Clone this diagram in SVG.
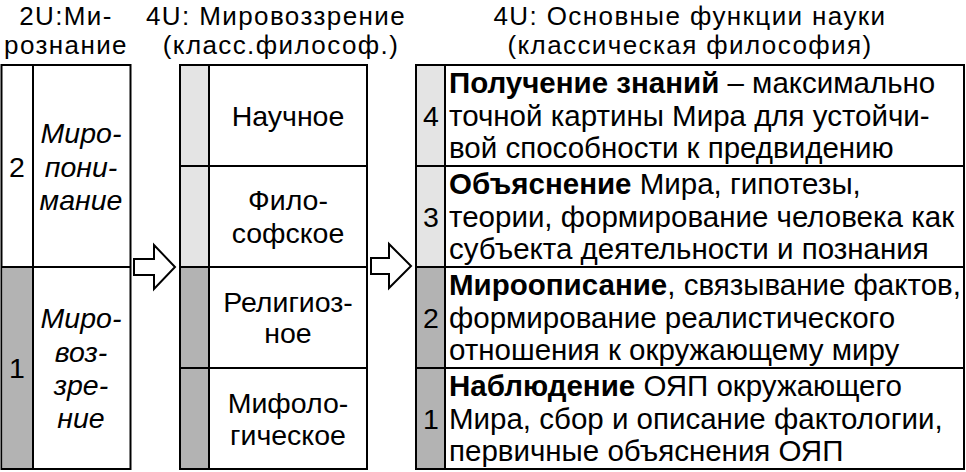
<svg xmlns="http://www.w3.org/2000/svg" width="966" height="472" viewBox="0 0 966 472">
<style>
text{font-family:"Liberation Sans",Arial,sans-serif;font-size:28.5px;fill:#000}
.h{text-anchor:middle;font-size:26px;letter-spacing:1.4px}
.c{text-anchor:middle}
.i{font-style:italic}
.b{font-weight:bold}
.t{font-size:29.5px}
.box{fill:#fff;stroke:#000;stroke-width:2}
.lt{fill:#e4e4e4}
.dk{fill:#b3b3b3}
.ln{stroke:#000;stroke-width:2;fill:none}
.ar{fill:#fff;stroke:#000;stroke-width:2;stroke-linejoin:miter}
</style>
<rect width="966" height="472" fill="#fff"/>
<g id="headings">
<text class="h" x="66" y="25">2U:Ми-</text>
<text class="h" x="66" y="54">рознание</text>
<text class="h" x="276" y="25">4U: Мировоззрение</text>
<text class="h" x="281" y="54">(класс.философ.)</text>
<text class="h" x="690" y="25">4U: Основные функции науки</text>
<text class="h" x="690" y="54">(классическая философия)</text>
</g>
<g id="col1">
<rect class="box" x="1.5" y="65" width="129" height="404"/>
<rect class="dk" x="2.5" y="267" width="30.5" height="201"/>
<line class="ln" x1="33" y1="65" x2="33" y2="469"/>
<line class="ln" x1="1.5" y1="267" x2="130.5" y2="267"/>
<text class="c" x="17" y="177">2</text>
<text class="c i" x="81" y="143">Миро-</text>
<text class="c i" x="81" y="177">пони-</text>
<text class="c i" x="81" y="210">мание</text>
<text class="c" x="17" y="378">1</text>
<text class="c i" x="81" y="328">Миро-</text>
<text class="c i" x="81" y="362">воз-</text>
<text class="c i" x="81" y="395">зре-</text>
<text class="c i" x="81" y="428">ние</text>
</g>
<g id="col2">
<rect class="box" x="180" y="65" width="187" height="404"/>
<rect class="lt" x="181" y="66" width="28" height="201"/>
<rect class="dk" x="181" y="267" width="28" height="201"/>
<line class="ln" x1="209" y1="65" x2="209" y2="469"/>
<line class="ln" x1="180" y1="166" x2="367" y2="166"/>
<line class="ln" x1="180" y1="267" x2="367" y2="267"/>
<line class="ln" x1="180" y1="368" x2="367" y2="368"/>
<text class="c" x="288" y="126">Научное</text>
<text class="c" x="288" y="210">Фило-</text>
<text class="c" x="288" y="243">софское</text>
<text class="c" x="288" y="312">Религиоз-</text>
<text class="c" x="288" y="343">ное</text>
<text class="c" x="288" y="413">Мифоло-</text>
<text class="c" x="288" y="445">гическое</text>
</g>
<g id="col3">
<rect class="box" x="416" y="65" width="548" height="404"/>
<rect class="lt" x="417" y="66" width="28" height="201"/>
<rect class="dk" x="417" y="267" width="28" height="201"/>
<line class="ln" x1="445" y1="65" x2="445" y2="469"/>
<line class="ln" x1="416" y1="166" x2="964" y2="166"/>
<line class="ln" x1="416" y1="267" x2="964" y2="267"/>
<line class="ln" x1="416" y1="368" x2="964" y2="368"/>
<text class="c" x="431" y="126">4</text>
<text class="c" x="431" y="227">3</text>
<text class="c" x="431" y="328">2</text>
<text class="c" x="431" y="429">1</text>
<text class="t" x="449" y="93"><tspan class="b">Получение знаний</tspan> – максимально</text>
<text class="t" x="449" y="126">точной картины Мира для устойчи-</text>
<text class="t" x="449" y="158">вой способности к предвидению</text>
<text class="t" x="449" y="194"><tspan class="b">Объяснение</tspan> Мира, гипотезы,</text>
<text class="t" x="449" y="227">теории, формирование человека как</text>
<text class="t" x="449" y="259">субъекта деятельности и познания</text>
<text class="t" x="449" y="295"><tspan class="b">Мироописание</tspan>, связывание фактов,</text>
<text class="t" x="449" y="328">формирование реалистического</text>
<text class="t" x="449" y="360">отношения к окружающему миру</text>
<text class="t" x="449" y="396"><tspan class="b">Наблюдение</tspan> ОЯП окружающего</text>
<text class="t" x="449" y="429">Мира, сбор и описание фактологии,</text>
<text class="t" x="449" y="461">первичные объяснения ОЯП</text>
</g>
<g id="connectors">
<polygon class="ar" points="134,259 154,259 154,245 175,267 154,289 154,275 134,275"/>
<polygon class="ar" points="371,258 389,258 389,244 411,266 389,288 389,274 371,274"/>
</g>
</svg>
